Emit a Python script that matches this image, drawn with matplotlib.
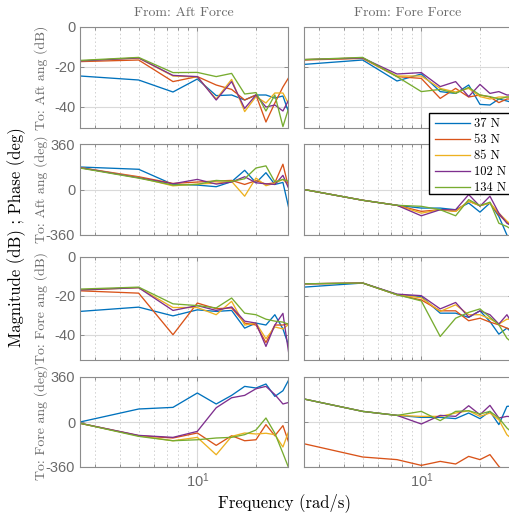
import numpy as np
import matplotlib
matplotlib.use("Agg")
import matplotlib.pyplot as plt
from matplotlib.ticker import FixedLocator, NullFormatter
from matplotlib.patches import Rectangle

plt.rcParams['mathtext.fontset'] = 'custom'
plt.rcParams['mathtext.rm'] = 'Liberation Sans'
plt.rcParams['mathtext.it'] = 'Liberation Sans:italic'

# ---------------- data ----------------
freq = [2.5, 5.0, 7.5, 10.0, 12.5, 15.0, 17.5, 20.0, 22.5, 25.0, 27.5, 30.0]
loads = ['37 N', '53 N', '85 N', '102 N', '134 N']
colors = ['#0072BD', '#D95319', '#EDB120', '#7E2F8E', '#77AC30']

col_titles = ['From: Aft Force', 'From: Fore Force']
row_labels = ['To: Aft ang (dB)', 'To: Aft ang (deg)', 'To: Fore ang (dB)', 'To: Fore ang (deg)']
mag_ticks = [-40, -20, 0]
mag_ticklabels = ['-40', '-20', '0']
phase_ticks = [-360, 0, 360]
phase_ticklabels = ['-360', '0', '360']

# From Aft Force -> To Aft ang, magnitude (dB)
aft_aft_mag = [
    [-24.5, -26.5, -32.5, -26.0, -34.3, -34.0, -36.5, -34.0, -34.0, -35.5, -34.5, -45.0],
    [-17.3, -16.5, -27.3, -24.8, -29.0, -31.2, -36.5, -34.0, -47.5, -38.0, -30.0, -24.0],
    [-17.0, -15.5, -24.5, -25.0, -36.0, -26.2, -42.3, -34.8, -38.0, -33.0, -33.0, -40.0],
    [-17.0, -15.5, -24.2, -24.8, -36.5, -27.3, -40.7, -34.0, -40.0, -39.0, -42.0, -35.0],
    [-16.7, -15.2, -22.8, -22.7, -24.8, -23.2, -33.5, -32.8, -42.0, -34.0, -49.8, -38.0],
]
# From Aft Force -> To Aft ang, phase (deg)
aft_aft_phase = [
    [178, 160, 40, 35, 22, 62, 152, 53, 133, 40, 56, -200],
    [173, 101, 48, 59, 67, 72, 40, 70, 43, 53, 200, -40],
    [173, 95, 29, 43, 50, 64, -53, 91, 30, 50, 80, 20],
    [173, 93, 45, 80, 43, 59, 101, 53, 45, 40, 112, -20],
    [170, 90, 35, 40, 72, 64, 85, 170, 187, 60, 80, 60],
]
# From Aft Force -> To Fore ang, magnitude (dB)
aft_fore_mag = [
    [-28.0, -25.8, -30.3, -27.2, -28.0, -27.5, -36.6, -34.0, -35.0, -29.7, -37.0, -48.0],
    [-17.4, -18.6, -40.0, -23.7, -26.6, -26.2, -34.0, -35.0, -44.0, -35.0, -35.0, -34.0],
    [-17.0, -15.8, -26.0, -26.0, -29.7, -22.8, -35.0, -34.0, -42.0, -36.0, -37.0, -34.0],
    [-17.0, -15.8, -27.5, -25.0, -27.5, -25.7, -33.0, -34.0, -46.0, -35.0, -29.0, -55.0],
    [-16.5, -15.5, -24.1, -25.0, -26.2, -21.1, -28.9, -29.7, -32.0, -33.0, -33.5, -35.0],
]
# From Aft Force -> To Fore ang, phase (deg)
aft_fore_phase = [
    [0, 104, 117, 232, 144, 213, 285, 272, 304, 205, 250, 360],
    [-10, -110, -128, -88, -187, -110, -150, -142, -21, -110, -29, -200],
    [-10, -110, -150, -123, -262, -115, -88, -96, -90, -101, -200, -40],
    [-10, -107, -123, -75, 114, 194, 213, 266, 285, 220, 144, 160],
    [-10, -115, -150, -142, -128, -123, -101, -64, 32, -90, -250, -400],
]
# From Fore Force -> To Aft ang, magnitude (dB)
fore_aft_mag = [
    [-18.7, -16.5, -27.0, -23.5, -32.3, -33.2, -29.0, -38.7, -39.0, -36.0, -37.0, -38.0],
    [-16.5, -15.7, -24.8, -25.7, -35.7, -30.7, -35.0, -34.0, -35.0, -37.8, -36.0, -36.0],
    [-16.3, -15.5, -24.5, -24.5, -30.7, -32.5, -30.7, -34.8, -36.0, -35.0, -35.0, -35.0],
    [-16.3, -15.5, -23.5, -22.8, -29.8, -27.3, -34.8, -28.7, -33.2, -32.3, -34.0, -34.0],
    [-16.3, -15.2, -24.8, -32.3, -31.2, -33.2, -30.2, -34.0, -34.8, -36.0, -35.0, -35.0],
]
# From Fore Force -> To Aft ang, phase (deg)
fore_aft_phase = [
    [0, -85, -125, -147, -147, -160, -107, -179, -107, -213, -360, -450],
    [0, -85, -125, -173, -160, -173, -93, -128, -107, -200, -260, -300],
    [0, -85, -125, -187, -160, -173, -93, -128, -107, -187, -250, -300],
    [0, -85, -125, -208, -160, -160, -40, -133, -53, -187, -267, -300],
    [0, -85, -125, -133, -160, -208, -80, -128, -100, -267, -293, -330],
]
# From Fore Force -> To Fore ang, magnitude (dB)
fore_fore_mag = [
    [-15.5, -13.4, -19.4, -20.4, -28.9, -28.9, -31.1, -27.7, -33.2, -39.7, -36.6, -40.0],
    [-13.8, -13.4, -19.4, -22.1, -27.7, -27.7, -32.8, -31.5, -33.5, -34.9, -36.6, -38.0],
    [-13.8, -13.4, -19.4, -21.0, -28.0, -24.6, -29.7, -29.7, -31.8, -34.5, -32.0, -32.0],
    [-13.8, -13.4, -19.1, -19.9, -26.7, -23.4, -30.9, -27.7, -29.7, -34.5, -29.7, -36.0],
    [-13.8, -13.4, -19.4, -22.6, -40.9, -31.5, -28.5, -26.7, -31.0, -34.9, -41.8, -45.0],
]
# From Fore Force -> To Fore ang, phase (deg)
fore_fore_phase = [
    [184, 85, 53, 37, 37, 27, 72, 27, 85, -21, 125, 130],
    [-174, -280, -301, -347, -315, -336, -275, -301, -261, -355, -420, -450],
    [184, 85, 53, 45, 45, 72, 90, 45, 72, 18, -102, -150],
    [184, 85, 53, -16, 53, 45, 130, 58, 133, 32, 45, 40],
    [184, 85, 53, 85, 11, 85, 90, 64, 85, 32, -48, -100],
]

panels = [
    [aft_aft_mag, fore_aft_mag],
    [aft_aft_phase, fore_aft_phase],
    [aft_fore_mag, fore_fore_mag],
    [aft_fore_phase, fore_fore_phase],
]
is_mag = [True, False, True, False]
mag_ylims = [(-50.5, 0), None, (-53, 0), None]

# ---------------- layout ----------------
W, H = 509, 515
fig = plt.figure(figsize=(W / 100, H / 100), dpi=100)
cols_px = [(80, 208), (304, 208)]
rows_px = [(27, 128), (144, 235), (257, 360), (377, 467)]

gray = '#6a6a6a'
spine_gray = '#8c8c8c'
serif = 'cmr10'
tickfont = 'Liberation Sans'

axes = [[None, None] for _ in range(4)]
for r, (top, bot) in enumerate(rows_px):
    for c, (left, width) in enumerate(cols_px):
        ax = fig.add_axes([left / W, 1 - bot / H, width / W, (bot - top) / H])
        axes[r][c] = ax
        data = panels[r][c]
        for i, series in enumerate(data):
            ax.plot(freq, series, color=colors[i], lw=0.95, label=loads[i])
        ax.set_xscale('log')
        ax.set_xlim(2.5, 29.2)
        if is_mag[r]:
            ax.set_ylim(*mag_ylims[r])
            ax.set_yticks(mag_ticks)
            ax.set_yticklabels(mag_ticklabels if c == 0 else [])
        else:
            ax.set_ylim(-360, 360)
            ax.set_yticks(phase_ticks)
            ax.set_yticklabels(phase_ticklabels if c == 0 else [])
        ax.xaxis.set_major_locator(FixedLocator([10]))
        ax.xaxis.set_minor_locator(FixedLocator([3, 4, 5, 6, 7, 8, 9, 20]))
        ax.xaxis.set_minor_formatter(NullFormatter())
        if r == 3:
            ax.set_xticklabels([r'$10^{1}$'])
        else:
            ax.set_xticklabels([])
        ax.grid(True, which='major', color='#d9d9d9', lw=0.8, ls='-')
        ax.grid(True, which='minor', axis='x', color='#d0d0d0', lw=0.7, ls=(0, (1.5, 2.5)))
        ax.set_axisbelow(True)
        ax.tick_params(which='both', direction='in', top=True, right=True,
                       colors=spine_gray, labelcolor=gray, labelsize=10.5,
                       length=3, width=0.7)
        ax.tick_params(which='minor', length=2)
        for lab in ax.get_xticklabels() + ax.get_yticklabels():
            lab.set_fontfamily(tickfont)
        for s in ax.spines.values():
            s.set_color(spine_gray)
            s.set_linewidth(0.8)
        ax.set_facecolor('white')

# column titles
for c, (left, width) in enumerate(cols_px):
    fig.text((left + width / 2) / W, 1 - 13 / H, col_titles[c], ha='center', va='center',
             fontsize=10, color=gray, family=serif)

# row labels
for r, (top, bot) in enumerate(rows_px):
    fig.text(41 / W, 1 - ((top + bot) / 2) / H, row_labels[r], ha='center', va='center',
             rotation=90, fontsize=10, color=gray, family=serif)

fig.text(17 / W, 1 - 237 / H, 'Magnitude (dB) ; Phase (deg)', ha='center', va='center',
         rotation=90, fontsize=12, color='black', family=serif)
fig.text(285 / W, 1 - 503 / H, 'Frequency (rad/s)', ha='center', va='center',
         fontsize=12, color='black', family=serif)

# legend box (extends past the right edge of the figure, as in the reference)
box = Rectangle((429 / W, 1 - 194 / H), 90 / W, 81 / H, transform=fig.transFigure,
                facecolor='white', edgecolor='black', lw=1.0, zorder=5)
fig.patches.append(box)

handles, labels = axes[0][1].get_legend_handles_labels()
leg = fig.legend(handles, labels, loc='upper left', bbox_to_anchor=(431 / W, 1 - 114 / H),
                 bbox_transform=fig.transFigure, frameon=False,
                 prop={'family': serif, 'size': 9},
                 handlelength=2.8, handletextpad=0.3, labelspacing=0.32,
                 borderpad=0.3, borderaxespad=0, handleheight=0.6)
leg.set_zorder(6)

fig.savefig('out.png', dpi=100)
